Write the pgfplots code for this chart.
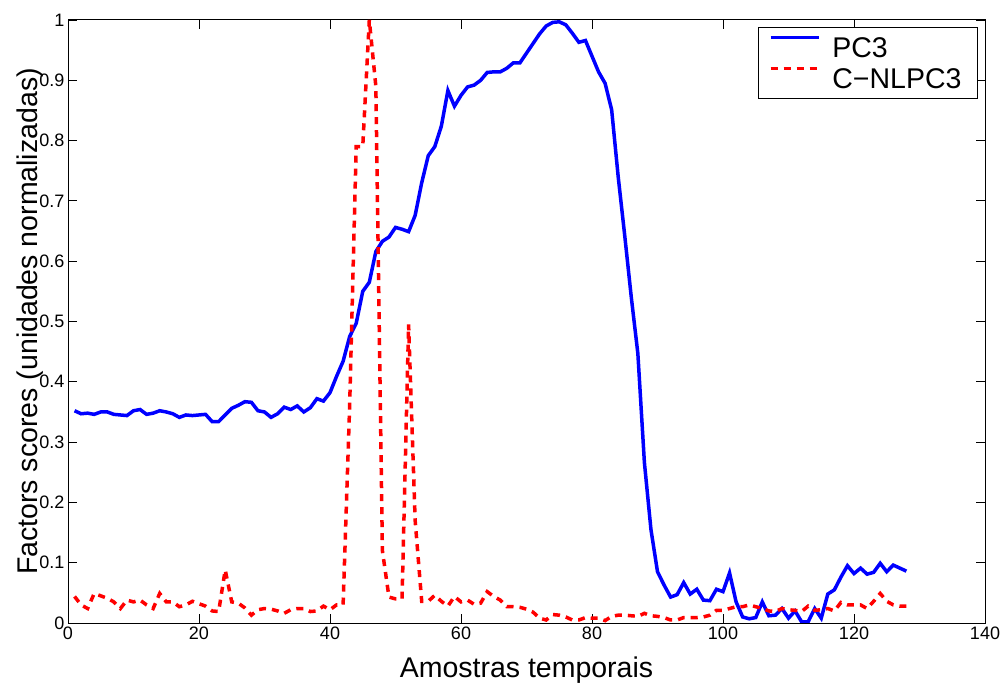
\documentclass[border=0pt]{standalone}
\usepackage{fontspec}
\setmainfont{Liberation Sans}
\usepackage{pgfplots}
\pgfplotsset{compat=1.18}
\usepackage{pgfplotstable}

\pgfplotstableread{
x y
1 0.352
2 0.347
3 0.348
4 0.346
5 0.350
6 0.350
7 0.346
8 0.345
9 0.344
10 0.352
11 0.354
12 0.346
13 0.348
14 0.352
15 0.350
16 0.347
17 0.341
18 0.345
19 0.344
20 0.345
21 0.346
22 0.334
23 0.334
24 0.345
25 0.356
26 0.361
27 0.367
28 0.366
29 0.352
30 0.350
31 0.341
32 0.347
33 0.358
34 0.354
35 0.360
36 0.350
37 0.357
38 0.372
39 0.368
40 0.382
41 0.409
42 0.434
43 0.475
44 0.497
45 0.550
46 0.565
47 0.616
48 0.633
49 0.640
50 0.656
51 0.653
52 0.649
53 0.676
54 0.730
55 0.775
56 0.790
57 0.824
58 0.883
59 0.857
60 0.875
61 0.889
62 0.892
63 0.900
64 0.913
65 0.914
66 0.914
67 0.920
68 0.929
69 0.929
70 0.945
71 0.961
72 0.977
73 0.990
74 0.996
75 0.997
76 0.992
77 0.978
78 0.963
79 0.966
80 0.940
81 0.914
82 0.895
83 0.851
84 0.740
85 0.642
86 0.540
87 0.447
88 0.266
89 0.155
90 0.085
91 0.063
92 0.043
93 0.047
94 0.067
95 0.048
96 0.056
97 0.038
98 0.037
99 0.056
100 0.052
101 0.083
102 0.035
103 0.010
104 0.007
105 0.009
106 0.035
107 0.012
108 0.013
109 0.024
110 0.008
111 0.020
112 0.002
113 0.002
114 0.024
115 0.008
116 0.048
117 0.055
118 0.076
119 0.095
120 0.082
121 0.091
122 0.081
123 0.084
124 0.099
125 0.085
126 0.096
127 0.091
128 0.086
}\pcthree

\pgfplotstableread{
x y
1 0.044
2 0.030
3 0.024
4 0.049
5 0.045
6 0.041
7 0.035
8 0.024
9 0.038
10 0.035
11 0.038
12 0.030
13 0.024
14 0.049
15 0.035
16 0.035
17 0.027
18 0.030
19 0.036
20 0.032
21 0.028
22 0.020
23 0.019
24 0.088
25 0.035
26 0.033
27 0.025
28 0.013
29 0.022
30 0.024
31 0.023
32 0.020
33 0.016
34 0.022
35 0.024
36 0.024
37 0.019
38 0.020
39 0.028
40 0.022
41 0.030
42 0.030
43 0.360
44 0.790
45 0.790
46 1.000
47 0.890
48 0.120
49 0.043
50 0.040
51 0.040
52 0.495
53 0.170
54 0.036
55 0.036
56 0.046
57 0.036
58 0.028
59 0.044
60 0.035
61 0.038
62 0.031
63 0.033
64 0.052
65 0.044
66 0.038
67 0.027
68 0.027
69 0.026
70 0.023
71 0.018
72 0.008
73 0.005
74 0.014
75 0.013
76 0.010
77 0.005
78 0.005
79 0.009
80 0.008
81 0.008
82 0.004
83 0.011
84 0.013
85 0.013
86 0.012
87 0.011
88 0.016
89 0.012
90 0.011
91 0.009
92 0.005
93 0.005
94 0.009
95 0.009
96 0.009
97 0.010
98 0.013
99 0.021
100 0.021
101 0.024
102 0.027
103 0.027
104 0.030
105 0.027
106 0.024
107 0.020
108 0.019
109 0.024
110 0.022
111 0.021
112 0.019
113 0.028
114 0.021
115 0.022
116 0.024
117 0.020
118 0.034
119 0.030
120 0.030
121 0.030
122 0.024
123 0.036
124 0.049
125 0.036
126 0.030
127 0.028
128 0.028
}\cnlpc

\begin{document}
\begin{tikzpicture}
\begin{axis}[
  at={(68bp,63bp)}, anchor=south west,
  width=917bp, height=603bp, scale only axis,
  xmin=0, xmax=140, ymin=0, ymax=1,
  xtick={0,20,40,60,80,100,120,140},
  ytick={0,0.1,0.2,0.3,0.4,0.5,0.6,0.7,0.8,0.9,1},
  yticklabels={0,0.1,0.2,0.3,0.4,0.5,0.6,0.7,0.8,0.9,1},
  tick align=inside, tick pos=both,
  major tick length=9bp,
  every tick/.style={black, line width=0.8bp},
  axis line style={line width=1bp},
  /pgf/number format/assume math mode=true,
  tick label style={font=\fontsize{18bp}{20bp}\selectfont},
  label style={font=\fontsize{28.5bp}{32bp}\selectfont},
  xlabel={Amostras temporais},
  xlabel style={at={(axis description cs:0.5,0)}, anchor=base, yshift=-54bp},
  ylabel={Factors scores (unidades normalizadas)},
  ylabel style={at={(axis description cs:-0.0414,0.5)}, anchor=center},
  legend cell align=left,
  legend image code/.code={\path (0bp,0bp); \draw[#1] (0bp,10bp) -- (48bp,10bp);},
  legend style={at={(rel axis cs:1,1)}, xshift=-7bp, yshift=-7bp, anchor=north east,
    draw=black, line width=1bp, font=\fontsize{28.5bp}{32bp}\selectfont,
    inner xsep=10bp, inner ysep=4.5bp, column sep=6bp,
    nodes={inner xsep=6bp, inner ysep=0bp, text height=25.5bp, text depth=5.5bp}},
]
\addplot[blue, line width=3.5bp] table[x=x,y=y] {\pcthree};
\addlegendentry{PC3}
\addplot[red, line width=3.5bp, dash pattern=on 7bp off 6bp] table[x=x,y=y] {\cnlpc};
\addlegendentry{C−NLPC3}
\end{axis}
\pgfresetboundingbox
\path[use as bounding box] (0,0) rectangle (1003bp,686bp);
\end{tikzpicture}
\end{document}
